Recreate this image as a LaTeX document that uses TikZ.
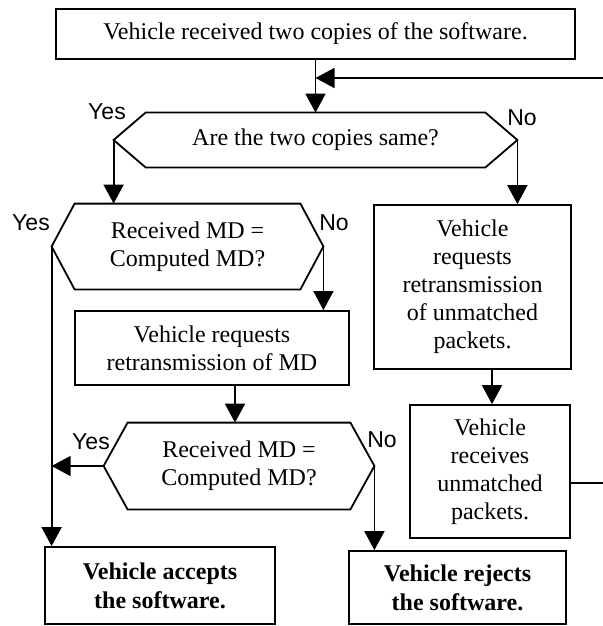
\documentclass[tikz,border=0pt]{standalone}
\usepackage{fontspec}
\setmainfont{Liberation Serif}
\newfontfamily\lblfont{Liberation Sans}
\usetikzlibrary{arrows.meta}
\newcommand{\hexdraw}[2]{\draw[line] ([xshift=#2]#1.north west) -- ([xshift=-#2]#1.north east) -- (#1.east) -- ([xshift=-#2]#1.south east) -- ([xshift=#2]#1.south west) -- (#1.west) -- cycle;}
\begin{document}
\begin{tikzpicture}[x=0.5pt,y=-0.5pt,
  line/.style={line width=0.9pt},
  arr/.style={line, -{Triangle[width=10pt,length=9.5pt]}},
  box/.style={draw, line width=0.9pt, inner sep=0pt, align=center, font=\fontsize{12}{14}\selectfont},
  hexbox/.style={inner sep=0pt, align=center, font=\fontsize{12}{14}\selectfont},
  lbl/.style={font=\lblfont\fontsize{11.5}{13}\selectfont, inner sep=0pt}]
\useasboundingbox (0,0) rectangle (602,626);

\node[box, minimum width=259.5pt, minimum height=25pt] (top) at (315.5,34) {Vehicle received two copies of the software.};
\node[hexbox, minimum width=201.5pt, minimum height=27pt] (h1) at (315.5,140) {Are the two copies same?};
\hexdraw{h1}{16pt}
\node[hexbox, minimum width=135.5pt, minimum height=42.5pt] (h2) at (187.5,246.5) {Received MD =\\Computed MD?};
\hexdraw{h2}{11.5pt}
\node[box, minimum width=137pt, minimum height=37pt] (r2) at (212,348) {Vehicle requests\\retransmission of MD};
\node[hexbox, minimum width=135pt, minimum height=43pt] (h3) at (239,466) {Received MD =\\Computed MD?};
\hexdraw{h3}{12pt}
\node[box, minimum width=98.5pt, minimum height=82pt] (r1) at (472.5,287) {Vehicle\\requests\\retransmission\\of unmatched\\packets.};
\node[box, minimum width=80pt, minimum height=66.5pt] (r3) at (490,471.5) {Vehicle\\receives\\unmatched\\packets.};
\node[box, minimum width=115pt, minimum height=38.5pt, font=\fontsize{12}{14.5}\selectfont\bfseries] (acc) at (160,585.5) {Vehicle accepts\\the software.};
\node[box, minimum width=108.5pt, minimum height=36.5pt, font=\fontsize{12}{14.5}\selectfont\bfseries] (rej) at (457.5,587.5) {Vehicle rejects\\the software.};

\node[lbl] (y1) at (107,112) {Yes};
\node[lbl] (n1) at (522,118) {No};
\node[lbl] (y2) at (31,223) {Yes};
\node[lbl] (n2) at (334,223) {No};
\node[lbl] (y3) at (91,442) {Yes};
\node[lbl] (n3) at (382,440) {No};

\draw[arr] (top.south) -- (h1.north);
\coordinate (lr) at (605,483);
\coordinate (lt) at (605,78);
\draw[arr] (r3.east |- lr) -- (lr) -- (lt) -- (lt -| top.south);
\draw[arr] (h1.west) -- (h1.west |- h2.north);
\draw[arr] (h1.east) -- (h1.east |- r1.north);
\draw[arr] (h2.west) -- (h2.west |- acc.north);
\draw[arr] (h2.east) -- (h2.east |- r2.north);
\coordinate (c3) at (235,0);
\draw[arr] (r2.south -| c3) -- (h3.north -| c3);
\draw[arr] (h3.west) -- (h3.west -| h2.west);
\draw[arr] (h3.east) -- (h3.east |- rej.north);
\coordinate (c4) at (492,0);
\draw[arr] (r1.south -| c4) -- (r3.north -| c4);
\end{tikzpicture}
\end{document}
